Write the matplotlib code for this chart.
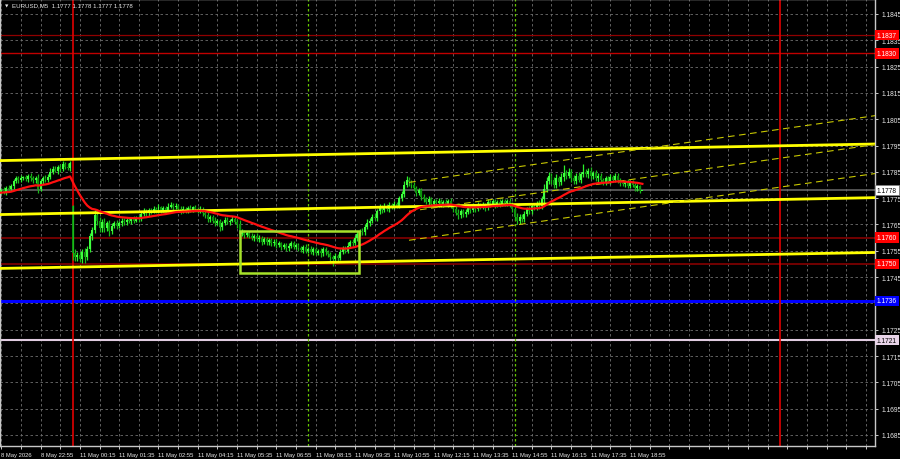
import numpy as np
import pandas as pd
import matplotlib
matplotlib.use("Agg")
import matplotlib.pyplot as plt
from matplotlib.patches import Rectangle
import matplotlib.transforms as mtransforms

plt.rcParams['font.family'] = ['Liberation Sans', 'DejaVu Sans']

# ---------------- data (prices in pips above BASE) ----------------
BASE = 1.17
PIP = 0.0001

symbol_title = "EURUSD,M5  1.1777 1.1778 1.1777 1.1778"

# bars before the visible window (only feed the moving average)
pre_closes = [76.5, 77.0, 76.2, 75.8, 76.5, 77.2, 76.8, 77.5, 76.9, 77.8,
              77.2, 76.6, 77.4, 78.0, 77.3, 76.8, 77.6, 78.2, 77.5]

first_bar = -29          # bar index of first visible bar (Monday 00:00 = 0)
monday_open = 72.0       # gap open of the first Monday bar

closes = [
    # Friday 8 May (k=-29..-1)
    78.0, 77.5, 79.0, 78.5, 79.5, 81.5, 82.5, 81.8, 82.8, 83.0,
    82.2, 83.3, 82.5, 81.8, 82.8, 78.5, 81.5, 82.8, 82.0, 83.2,
    85.0, 86.2, 85.5, 86.8, 86.0, 88.0, 87.0, 86.5, 88.2,
    # Monday 11 May (k=0..232)
    54.0, 52.5, 53.5, 52.0, 54.5, 52.8, 55.5, 60.5, 63.0, 68.5,
    66.5, 63.5, 66.0, 63.5, 65.5, 62.5, 64.5, 65.5, 64.5, 65.5,
    66.5, 65.8, 66.8, 66.2, 67.0, 66.5, 67.5, 67.0, 69.0, 70.0,
    69.2, 70.5, 70.0, 71.0, 70.2, 71.5, 70.5, 71.2, 70.6, 71.8,
    72.5, 71.5, 72.2, 71.0, 70.0, 71.0, 70.3, 71.2, 70.6, 71.5,
    70.8, 70.2, 70.9, 69.5, 68.5, 67.0, 67.8, 66.5, 65.5, 66.2,
    64.0, 65.5, 66.8, 66.0, 66.5, 67.2, 66.0, 65.0, 61.5, 62.2,
    61.0, 61.8, 60.8, 60.0, 60.8, 59.5, 59.8, 58.5, 59.5, 58.2,
    59.0, 57.8, 58.5, 57.2, 57.8, 56.5, 57.2, 56.0, 57.0, 58.0,
    56.5, 57.3, 56.0, 55.3, 56.5, 55.0, 55.7, 54.5, 55.5, 54.3,
    55.0, 54.0, 55.5, 54.5, 53.7, 52.5, 51.7, 53.0, 52.3, 54.5,
    55.8, 55.0, 57.0, 58.3, 57.8, 59.8, 61.5, 62.5, 62.0, 64.0,
    65.5, 66.5, 68.0, 67.5, 70.0, 71.5, 70.5, 72.0, 71.0, 72.5,
    71.8, 72.8, 72.2, 75.0, 76.5, 80.0, 82.0, 81.0, 80.0, 79.0,
    77.0, 78.0, 75.5, 74.5, 73.5, 74.5, 72.8, 73.8, 73.0, 74.0,
    72.5, 73.5, 72.8, 73.8, 72.2, 71.0, 69.5, 68.5, 70.0, 68.8,
    69.8, 71.5, 70.5, 72.0, 71.0, 72.5, 71.8, 72.5, 71.5, 73.5,
    72.8, 73.8, 72.5, 73.5, 72.8, 73.8, 73.0, 74.0, 72.5, 71.0,
    68.0, 66.5, 68.0, 67.0, 69.0, 71.0, 70.0, 72.0, 71.5, 73.0,
    72.0, 74.5, 78.5, 81.5, 83.5, 82.0, 80.0, 82.5, 81.0, 83.0,
    84.5, 83.5, 85.0, 82.5, 81.5, 83.5, 82.0, 84.0, 85.0, 84.0,
    85.5, 83.5, 84.5, 82.5, 83.5, 82.0, 81.0, 82.5, 81.5, 83.0,
    82.0, 83.5, 82.0, 80.8, 80.3, 81.3, 79.8, 80.8, 80.0, 78.8,
    79.5, 77.7, 77.8,
]

wick_up = [
    0.8, 1.2, 0.6, 1.0, 0.9, 0.7, 1.1, 0.8, 1.0, 0.6,
    0.9, 0.7, 1.2, 0.8, 0.6, 1.4, 0.9, 0.7, 1.0, 0.8,
    1.3, 0.9, 1.1, 0.8, 1.2, 1.0, 0.7, 1.5, 0.9, 0.5,
    1.8, 1.2, 1.5, 1.0, 1.6, 1.4, 1.2, 1.0, 2.0, 1.5,
    1.2, 1.0, 1.6, 0.9, 1.3, 1.1, 0.8, 1.2, 0.9, 1.0,
    0.8, 1.1, 0.7, 0.9, 1.2, 0.8, 1.0, 0.9, 1.1, 0.7,
    0.9, 0.6, 1.0, 0.8, 1.1, 0.7, 0.9, 0.8, 1.2, 1.0,
    0.8, 1.1, 0.7, 0.9, 1.0, 0.6, 0.8, 1.1, 0.7, 0.9,
    0.8, 1.0, 0.6, 0.9, 1.1, 0.7, 0.8, 1.2, 0.9, 1.0,
    0.8, 0.9, 1.1, 0.7, 1.0, 0.8, 0.9, 1.6, 1.0, 0.8,
    0.7, 0.9, 1.0, 0.6, 0.8, 1.1, 0.7, 0.9, 0.8, 1.0,
    0.7, 0.9, 0.8, 1.1, 0.6, 0.9, 0.8, 1.0, 0.7, 0.9,
    0.8, 0.6, 1.0, 0.8, 0.9, 0.7, 1.1, 0.8, 0.9, 0.7,
    1.0, 0.8, 0.9, 0.7, 0.8, 1.0, 1.2, 0.9, 1.3, 1.1,
    1.0, 1.2, 0.9, 1.1, 1.3, 1.0, 0.8, 1.2, 1.0, 1.4,
    1.1, 0.9, 1.2, 1.0, 1.3, 0.8, 1.1, 0.9, 1.0, 0.8,
    1.2, 0.9, 1.0, 1.1, 1.5, 1.3, 1.0, 0.9, 1.2, 0.8,
    1.0, 0.9, 1.1, 0.8, 1.2, 0.9, 1.0, 0.7, 1.1, 0.8,
    0.9, 1.0, 0.8, 1.1, 0.7, 0.9, 1.2, 0.8, 1.0, 0.9,
    1.1, 0.8, 1.0, 0.9, 1.2, 0.7, 1.0, 0.8, 1.1, 0.9,
    0.8, 1.0, 0.9, 1.1, 0.7, 1.0, 0.8, 1.2, 0.9, 1.0,
    1.2, 0.9, 1.1, 1.0, 0.8, 1.2, 0.9, 1.1, 1.0, 1.3,
    1.5, 1.8, 1.4, 1.6, 1.2, 1.0, 1.5, 1.1, 1.4, 3.0,
    1.2, 1.5, 1.0, 1.3, 1.1, 1.4, 0.9, 3.0, 1.2, 1.0,
    1.3, 0.9, 1.1, 1.0, 1.2, 0.8, 1.1, 0.9, 1.0, 0.8,
    1.0, 0.9, 0.8, 1.1, 0.7, 0.9, 0.8, 1.0, 0.7, 0.8,
    0.6, 0.0,
]

wick_dn = [
    1.0, 0.8, 1.2, 0.7, 0.9, 1.1, 0.6, 1.0, 0.8, 0.9,
    0.7, 1.0, 0.8, 1.1, 0.9, 1.5, 0.8, 1.0, 0.7, 0.9,
    0.8, 1.0, 0.7, 1.2, 0.9, 0.8, 1.1, 0.7, 1.0, 2.5,
    1.5, 1.2, 1.4, 1.6, 2.3, 1.3, 1.0, 1.5, 1.2, 1.8,
    1.5, 1.2, 1.4, 1.0, 1.8, 1.3, 1.0, 1.2, 0.9, 1.1,
    0.9, 1.0, 0.8, 1.1, 0.9, 0.7, 1.0, 0.8, 0.9, 1.0,
    0.8, 1.0, 0.7, 0.9, 0.8, 1.0, 0.7, 0.9, 0.8, 0.7,
    1.0, 0.8, 1.1, 0.9, 0.7, 1.0, 0.8, 0.9, 1.0, 0.8,
    0.9, 0.7, 1.1, 1.0, 1.2, 0.9, 1.1, 1.0, 0.8, 1.5,
    1.0, 0.8, 0.9, 1.1, 0.7, 0.9, 1.2, 1.0, 0.8, 1.1,
    0.9, 1.0, 0.8, 1.1, 0.9, 1.0, 1.2, 0.8, 1.0, 0.9,
    1.1, 0.8, 1.0, 0.9, 1.2, 0.8, 1.0, 1.1, 0.9, 1.0,
    0.8, 1.1, 0.9, 1.2, 0.8, 1.0, 0.9, 1.1, 0.8, 1.0,
    1.2, 0.9, 1.0, 1.1, 1.3, 2.5, 1.0, 1.2, 0.8, 0.9,
    1.0, 0.8, 0.9, 1.1, 0.7, 1.0, 0.8, 0.9, 1.0, 0.8,
    0.9, 1.0, 0.8, 1.1, 0.9, 1.0, 0.8, 0.9, 1.1, 0.8,
    0.9, 1.0, 0.8, 0.9, 1.0, 0.8, 1.2, 1.0, 0.9, 1.1,
    0.9, 1.2, 1.0, 0.8, 1.1, 0.9, 1.0, 0.8, 1.2, 0.9,
    1.0, 0.8, 1.1, 0.9, 1.2, 1.0, 1.3, 0.9, 1.1, 0.8,
    0.9, 1.0, 0.8, 1.1, 0.9, 1.0, 0.8, 1.2, 0.9, 1.0,
    0.8, 1.1, 0.9, 1.0, 0.8, 0.9, 1.1, 1.0, 1.2, 1.4,
    1.5, 1.2, 1.0, 1.1, 0.9, 1.2, 1.0, 0.9, 1.1, 1.0,
    1.0, 1.2, 1.1, 1.3, 1.5, 1.2, 1.0, 1.4, 1.1, 1.3,
    1.2, 1.0, 1.4, 1.1, 1.3, 1.0, 1.2, 1.1, 1.0, 1.2,
    1.1, 1.3, 1.0, 1.2, 0.9, 1.1, 1.0, 0.9, 1.2, 1.0,
    0.9, 1.1, 1.0, 0.8, 1.0, 0.9, 1.1, 0.8, 1.0, 0.9,
    0.7, 0.0,
]

ma_span = 30

# time axis labels (one every 16 bars starting at first bar)
time_labels = ["8 May 2026", "8 May 22:55", "11 May 00:15", "11 May 01:35",
               "11 May 02:55", "11 May 04:15", "11 May 05:35", "11 May 06:55",
               "11 May 08:15", "11 May 09:35", "11 May 10:55", "11 May 12:15",
               "11 May 13:35", "11 May 14:55", "11 May 16:15", "11 May 17:35",
               "11 May 18:55"]
label_step = 16
grid_step = 8

# price axis
price_ticks = [1.1685, 1.1695, 1.1705, 1.1715, 1.1725, 1.1735, 1.1745, 1.1755,
               1.1765, 1.1775, 1.1785, 1.1795, 1.1805, 1.1815, 1.1825, 1.1835,
               1.1845]
hidden_ticks = [1.1735]   # covered by the blue level label

# drawn objects
day_separators = [0, 288]            # red verticals (bar index)
session_marks = [96, 180]            # green dotted verticals
trend_t = [0, 288]
trend_top = [89.8, 94.9]
trend_mid = [69.3, 74.5]
trend_bot = [48.8, 53.7]
channel_t = [137, 327]
channel_upper = [81.0, 106.4]
channel_mid = [70.0, 95.4]
channel_lower = [59.0, 84.4]
box_t = [68, 116.5]
box_p = [46.6, 62.6]

levels = [  # price, line color, line width, label bg, label fg
    (1.1837, '#900000', 0.9, '#ff0000', 'white'),
    (1.1830, '#c00000', 1.0, '#ff0000', 'white'),
    (1.1760, '#7a0000', 1.3, '#ff0000', 'white'),
    (1.1750, '#7a0000', 1.3, '#ff0000', 'white'),
    (1.1736, '#0000ff', 2.2, '#0000ff', 'white'),
    (1.1721, '#e0cce0', 1.5, '#e8d4e8', 'black'),
]
last_price = 1.1778

# ---------------- build ----------------
k = np.arange(first_bar, first_bar + len(closes))
c = np.array(closes)
o = np.empty_like(c)
o[0] = pre_closes[-1]
o[1:] = c[:-1]
o[k == 0] = monday_open
hi = np.maximum(o, c) + np.array(wick_up)
lo = np.minimum(o, c) - np.array(wick_dn)

to_price = lambda p: BASE + np.asarray(p) * PIP

all_closes = pd.Series(list(pre_closes) + list(closes))
ma = all_closes.ewm(span=ma_span, adjust=False).mean().to_numpy()
k_all = np.arange(first_bar - len(pre_closes), first_bar + len(closes))

fig = plt.figure(figsize=(9, 4.6), dpi=100, facecolor='black')
ax = fig.add_axes([0.0, 13 / 460, 875 / 900, 447 / 460])
ax.set_facecolor('black')

xmin, xmax = -29.52, 326.7
ax.set_xlim(xmin, xmax)
ax.set_ylim(1.16808, 1.18507)

# grid
grid_kw = dict(color='#6e6e6e', lw=0.6, dashes=(3, 3))
vgrid = np.arange(first_bar, xmax, grid_step)
for g in vgrid:
    ax.axvline(g, zorder=0, **grid_kw)
for p in price_ticks:
    ax.axhline(p, zorder=0, **grid_kw)

# horizontal levels
for p, col, lw, _, _ in levels:
    ax.axhline(p, color=col, lw=lw, zorder=1)
ax.axhline(last_price, color='#6a6a6a', lw=1.1, zorder=1)

# vertical markers
for d in day_separators:
    ax.axvline(d, color='#e00000', lw=1.2, zorder=1)
for s in session_marks:
    ax.axvline(s, color='#66c800', lw=0.9, dashes=(2, 2), zorder=1)

# candles
bull = c >= o
wick_col = np.where(bull, '#2af02a', '#1bb81b')
ax.vlines(k, to_price(lo), to_price(hi), colors=wick_col, lw=0.9, zorder=3)
body_h = np.maximum(np.abs(c - o), 0.3) * PIP
body_b = to_price(np.minimum(o, c))
ax.bar(k[bull], body_h[bull], bottom=body_b[bull], width=0.8,
       color='#40ff40', lw=0, zorder=4)
ax.bar(k[~bull], body_h[~bull], bottom=body_b[~bull], width=0.8,
       color='#0c940c', lw=0, zorder=4)

# moving average
ax.plot(k_all, ma * PIP + BASE, color='#ff1010', lw=1.6, zorder=6)

# trend lines (solid yellow)
for tl in (trend_top, trend_mid, trend_bot):
    ax.axline((trend_t[0], to_price(tl[0])), (trend_t[1], to_price(tl[1])),
              color='#ffff00', lw=2.0, zorder=5)
# channel (dashed yellow)
for ch in (channel_upper, channel_mid, channel_lower):
    ax.plot(channel_t, to_price(ch), color='#c8c800', lw=0.8,
            dashes=(6, 4), zorder=5)

# rectangle
ax.add_patch(Rectangle((box_t[0], to_price(box_p[0])), box_t[1] - box_t[0],
                       (box_p[1] - box_p[0]) * PIP, fill=False,
                       ec='#a6e22a', lw=1.8, zorder=7))

# axes styling
for sp in ax.spines.values():
    sp.set_color('#c8c8c8')
    sp.set_linewidth(1.0)
ax.yaxis.tick_right()
ax.set_yticks(price_ticks)
ax.set_yticklabels(["" if p in hidden_ticks else f"{p:.4f}" for p in price_ticks])
ax.tick_params(axis='y', colors='#e8e8e8', labelsize=4.8, length=2.5,
               width=0.6, pad=2)
xt = [first_bar + label_step * i for i in range(len(time_labels))]
ax.set_xticks(xt)
ax.set_xticklabels(time_labels, ha='left')
ax.set_xticks(vgrid, minor=True)
ax.tick_params(axis='x', which='both', colors='#e8e8e8', labelsize=4.2,
               length=2.5, width=0.6, pad=2)

# price labels on the right axis
trans = mtransforms.blended_transform_factory(ax.transAxes, ax.transData)
for p, _, _, bg, fg in levels:
    ax.text(1.0 + 2 / 875, p, f"{p:.4f}", transform=trans, ha='left',
            va='center', fontsize=4.8, color=fg, clip_on=False, zorder=20,
            bbox=dict(boxstyle='square,pad=0.25', fc=bg, ec='none'))
ax.text(1.0 + 2 / 875, last_price, f"{last_price:.4f}", transform=trans,
        ha='left', va='center', fontsize=4.8, color='black', clip_on=False,
        zorder=20, bbox=dict(boxstyle='square,pad=0.25', fc='white', ec='#808080', lw=0.5))

# title
ax.text(5 / 875, 1 - 6 / 447, "\u25BC", transform=ax.transAxes, fontsize=3.2,
        color='#e8e8e8', va='center', ha='left', family='DejaVu Sans', zorder=20)
ax.text(12 / 875, 1 - 6 / 447, symbol_title, transform=ax.transAxes,
        fontsize=4.4, color='#e8e8e8', va='center', ha='left', zorder=20)

fig.savefig('out.png', dpi=100, facecolor='black')
